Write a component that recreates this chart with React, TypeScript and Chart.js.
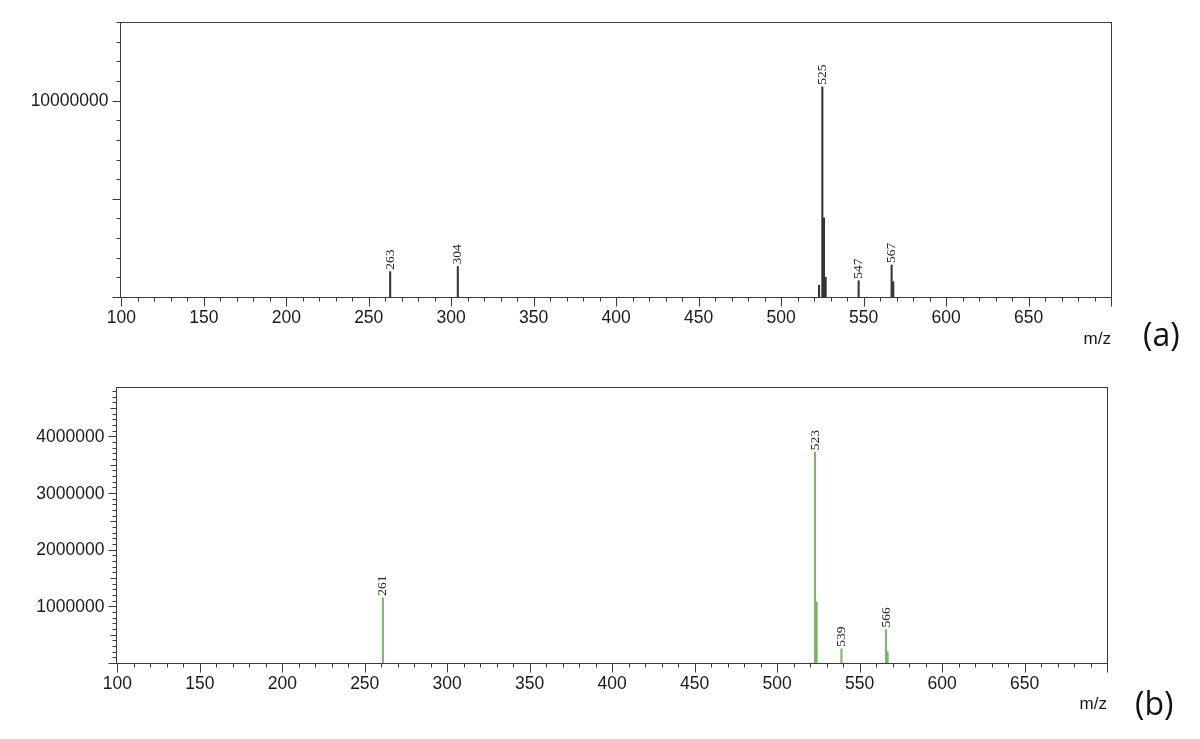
import React, { useEffect, useRef } from "react";
import { Chart, registerables } from "chart.js";

Chart.register(...registerables);

// ---- data ----
const X_MIN = 99.2;
const X_MAX = 700;
const xLabelValues = [100, 150, 200, 250, 300, 350, 400, 450, 500, 550, 600, 650];

const topMz = [263, 304, 523, 525, 526, 527, 547, 567, 568];
const topIntensity = [1290000, 1550000, 600000, 10700000, 4030000, 1000000, 830000, 1630000, 780000];
const topLabeled = [263, 304, 525, 547, 567];
const topYLabelValues = [10000000];

const bottomMz = [261, 523, 524, 539, 566, 567];
const bottomIntensity = [1150000, 3720000, 1080000, 250000, 590000, 200000];
const bottomLabeled = [261, 523, 539, 566];
const bottomYLabelValues = [1000000, 2000000, 3000000, 4000000];

const AXIS_FONT = '17.5px "Liberation Sans", Arial, sans-serif';

type PanelCfg = {
  mz: number[];
  intensity: number[];
  labeled: number[];
  yLabels: number[];
  yMax: number;
  yMinor: number;
  yMid: number;
  yMajor: number;
  color: string;
  height: number;
  padTop: number;
  padRight: number;
  yWidth: number;
  xHeight: number;
  titlePadBottom: number;
};

function makeDecor(cfg: PanelCfg) {
  return {
    id: "msDecor",
    afterDatasetsDraw(chart: any) {
      const ctx = chart.ctx;
      const meta = chart.getDatasetMeta(0);
      ctx.save();
      ctx.fillStyle = "#262626";
      ctx.font = '13.5px "Liberation Serif", "DejaVu Serif", serif';
      ctx.textAlign = "left";
      ctx.textBaseline = "middle";
      meta.data.forEach((el: any, i: number) => {
        const m = cfg.mz[i];
        if (!cfg.labeled.includes(m)) return;
        ctx.save();
        ctx.translate(el.x, el.y - 2);
        ctx.rotate(-Math.PI / 2);
        ctx.fillText(String(m), 0, 0);
        ctx.restore();
      });
      ctx.restore();
    },
    afterDraw(chart: any) {
      const { ctx, chartArea: a } = chart;
      const xs = chart.scales.x;
      const ys = chart.scales.y;
      ctx.save();
      ctx.strokeStyle = "#3a3a3a";
      ctx.lineWidth = 1;
      const L = Math.round(a.left) + 0.5;
      const R = Math.round(a.right) + 0.5;
      const T = Math.round(a.top) + 0.5;
      const B = Math.round(a.bottom) + 0.5;
      ctx.strokeRect(L, T, R - L, B - T);
      ctx.beginPath();
      for (let v = 100; v <= 700; v += 10) {
        const px = Math.round(xs.getPixelForValue(v)) + 0.5;
        const len = v % 50 === 0 ? 9 : 4;
        ctx.moveTo(px, B);
        ctx.lineTo(px, B + len);
      }
      const n = Math.floor(cfg.yMax / cfg.yMinor + 1e-6);
      for (let k = 0; k <= n; k++) {
        const v = k * cfg.yMinor;
        const py = Math.round(ys.getPixelForValue(v)) + 0.5;
        let len = 4;
        if (Math.abs(v % cfg.yMajor) < 1) len = 8;
        else if (cfg.yMid && Math.abs(v % cfg.yMid) < 1) len = 6;
        ctx.moveTo(L, py);
        ctx.lineTo(L - len, py);
      }
      ctx.stroke();

      // axis tick labels, placed through the scales
      ctx.fillStyle = "#1a1a1a";
      ctx.font = AXIS_FONT;
      ctx.textAlign = "center";
      ctx.textBaseline = "middle";
      xLabelValues.forEach((v) => {
        ctx.fillText(String(v), xs.getPixelForValue(v), B + 20.5);
      });
      ctx.textAlign = "right";
      cfg.yLabels.forEach((v) => {
        ctx.fillText(String(v), L - 12, ys.getPixelForValue(v) + 1);
      });
      ctx.restore();
    },
  };
}

function Panel({ cfg }: { cfg: PanelCfg }) {
  const ref = useRef<HTMLCanvasElement | null>(null);
  useEffect(() => {
    if (!ref.current) return;
    const chart = new Chart(ref.current, {
      type: "bar",
      data: {
        datasets: [
          {
            data: cfg.mz.map((m, i) => ({ x: m, y: cfg.intensity[i] })),
            backgroundColor: cfg.color,
            borderWidth: 0,
            barThickness: 1.4,
          } as any,
        ],
      },
      options: {
        animation: false,
        responsive: false,
        devicePixelRatio: 1,
        layout: { padding: { left: 0, top: cfg.padTop, right: cfg.padRight, bottom: 0 } },
        plugins: { legend: { display: false }, tooltip: { enabled: false } },
        scales: {
          x: {
            type: "linear",
            min: X_MIN,
            max: X_MAX,
            offset: false,
            grid: { display: false, drawTicks: false },
            border: { display: false },
            afterFit: (s: any) => {
              s.height = cfg.xHeight;
            },
            ticks: { display: false },
            title: {
              display: true,
              text: "m/z",
              align: "end",
              color: "#1a1a1a",
              font: { family: '"Liberation Sans", Arial, sans-serif', size: 17 },
              padding: { top: 0, bottom: cfg.titlePadBottom },
            },
          },
          y: {
            type: "linear",
            min: 0,
            max: cfg.yMax,
            grid: { display: false, drawTicks: false },
            border: { display: false },
            afterFit: (s: any) => {
              s.width = cfg.yWidth;
            },
            ticks: { display: false },
          },
        },
      } as any,
      plugins: [makeDecor(cfg)],
    });
    return () => chart.destroy();
  }, [cfg]);
  return <canvas ref={ref} width={1200} height={cfg.height} style={{ display: "block" }} />;
}

const topCfg: PanelCfg = {
  mz: topMz,
  intensity: topIntensity,
  labeled: topLabeled,
  yLabels: topYLabelValues,
  yMax: 14000000,
  yMinor: 1000000,
  yMid: 0,
  yMajor: 5000000,
  color: "#333333",
  height: 360,
  padTop: 22,
  padRight: 89,
  yWidth: 120,
  xHeight: 63,
  titlePadBottom: 10,
};

const bottomCfg: PanelCfg = {
  mz: bottomMz,
  intensity: bottomIntensity,
  labeled: bottomLabeled,
  yLabels: bottomYLabelValues,
  yMax: 4870000,
  yMinor: 100000,
  yMid: 500000,
  yMajor: 1000000,
  color: "#7ab46f",
  height: 379,
  padTop: 27,
  padRight: 93,
  yWidth: 116,
  xHeight: 76,
  titlePadBottom: 24,
};

export default function App() {
  const tag: React.CSSProperties = {
    position: "absolute",
    fontFamily: '"Open Sans", sans-serif',
    fontSize: 32,
    lineHeight: "32px",
    color: "#111",
  };
  return (
    <div style={{ position: "fixed", left: 0, top: 0, width: 1200, height: 739, background: "#fff" }}>
      <div style={{ position: "absolute", left: 0, top: 0 }}>
        <Panel cfg={topCfg} />
      </div>
      <div style={{ position: "absolute", left: 0, top: 360 }}>
        <Panel cfg={bottomCfg} />
      </div>
      <div style={{ ...tag, left: 1143, top: 318 }}>(a)</div>
      <div style={{ ...tag, left: 1135, top: 687 }}>(b)</div>
    </div>
  );
}
